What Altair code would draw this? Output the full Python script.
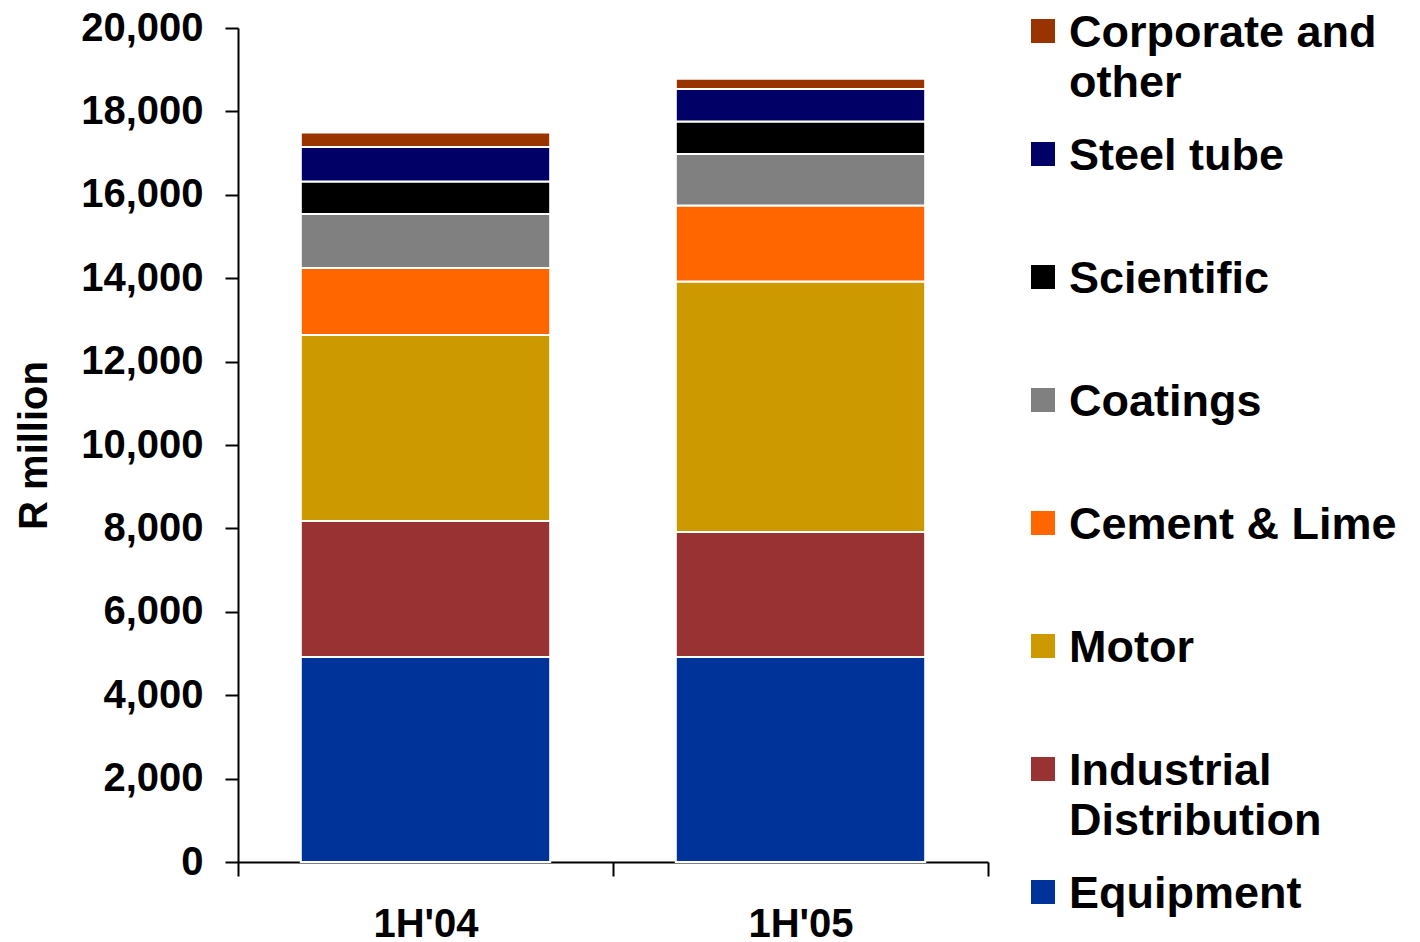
import altair as alt
import pandas as pd

periods = ["1H'04", "1H'05"]
segments = ["Equipment", "Industrial Distribution", "Motor", "Cement & Lime",
            "Coatings", "Scientific", "Steel tube", "Corporate and other"]
legend_labels = ["Equipment", "Industrial\nDistribution", "Motor", "Cement & Lime",
                 "Coatings", "Scientific", "Steel tube", "Corporate and\nother"]
colors = ["#003399", "#993333", "#CC9900", "#FF6600",
          "#808080", "#000000", "#000066", "#993300"]

equipment = [4916, 4916]
industrial = [3261, 2998]
motor = [4461, 6009]
cement = [1607, 1823]
coatings = [1295, 1232]
scientific = [781, 782]
steel = [825, 777]
corporate = [350, 247]

series = [equipment, industrial, motor, cement, coatings, scientific, steel, corporate]
y_ticks = list(range(0, 20001, 2000))

rows = []
for i, (seg, vals) in enumerate(zip(segments, series)):
    for p, v in zip(periods, vals):
        rows.append({"period": p, "segment": seg, "value": v, "idx": i})
df = pd.DataFrame(rows)

FONT = "Liberation Sans"

color_scale = alt.Scale(domain=segments, range=colors)

main = alt.Chart(df).mark_bar(stroke="white", strokeWidth=2,
                              width=alt.RelativeBandSize(0.665)).encode(
    x=alt.X("period:N", sort=periods,
            scale=alt.Scale(paddingInner=0, paddingOuter=0),
            axis=alt.Axis(title=None, labelAngle=0, labelFontSize=40, labelFontWeight="bold",
                          labelColor="black", labelPadding=28, tickSize=14, tickBand="extent",
                          tickColor="black", tickWidth=2, domainColor="black", domainWidth=2)),
    y=alt.Y("value:Q", stack="zero",
            scale=alt.Scale(domain=[0, 20000], nice=False),
            axis=alt.Axis(title="R million", titleFontSize=40, titleFontWeight="bold",
                          titleColor="black", titlePadding=26, values=y_ticks, format=",.0f",
                          labelFontSize=40, labelFontWeight="bold", labelColor="black",
                          labelPadding=22, tickSize=13, tickColor="black", tickWidth=2,
                          domainColor="black", domainWidth=2, grid=False)),
    color=alt.Color("segment:N", scale=color_scale, legend=None),
    order=alt.Order("idx:Q", sort="ascending"),
).properties(width=750, height=834)

leg_df = pd.DataFrame({"segment": segments, "label": legend_labels})
leg_order = list(reversed(segments))
leg_y = alt.Y("segment:N", scale=alt.Scale(type="point", padding=0, domain=leg_order,
                                           range=[3, 864]), axis=None)

leg_sq = alt.Chart(leg_df).mark_square(size=576, opacity=1).encode(
    x=alt.value(12), y=leg_y,
    color=alt.Color("segment:N", scale=color_scale, legend=None),
)
leg_tx = alt.Chart(leg_df).mark_text(align="left", baseline="alphabetic", dy=16, fontSize=45,
                                     fontWeight="bold", lineBreak="\n", lineHeight=50,
                                     color="black", font=FONT).encode(
    x=alt.value(38), y=leg_y, text="label:N",
)
legend = alt.layer(leg_sq, leg_tx).properties(width=370, height=864)

chart = alt.hconcat(main, legend, spacing=42).properties(
    padding={"left": 6, "top": 0, "right": 0, "bottom": 0}
).configure(font=FONT).configure_view(stroke=None)

chart.save("out.html", embed_options={"renderer": "svg", "actions": False})
